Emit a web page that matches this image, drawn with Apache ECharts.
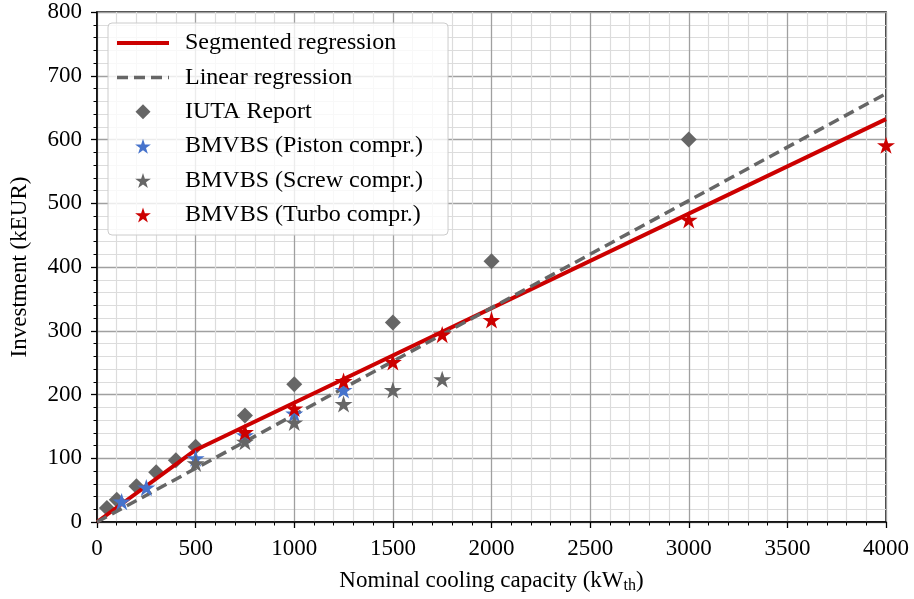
<!DOCTYPE html>
<html>
<head>
<meta charset="utf-8">
<script src="https://cdn.jsdelivr.net/npm/echarts@6/dist/echarts.min.js"></script>
<style>
html,body{margin:0;padding:0;background:#fff;}
#chart{width:914px;height:599px;}
</style>
</head>
<body>
<div id="chart"></div>
<script>
// ---- data ----
var iutaX = [50, 100, 200, 300, 400, 500, 750, 1000, 1500, 2000, 3000];
var iutaY = [22, 35, 56, 78, 97, 118, 167, 216, 313, 409, 600];
var pistonX = [125, 250, 500, 750, 1000, 1250];
var pistonY = [32, 54, 100, 136, 170, 207];
var screwX = [500, 750, 1000, 1250, 1500, 1750];
var screwY = [92, 126, 156, 185, 207, 224];
var turboX = [750, 1000, 1250, 1500, 1750, 2000, 3000, 4000];
var turboY = [141, 178, 221, 251, 294, 317, 474, 591];
var segX = [0, 500, 4000];
var segY = [0, 113, 632];
var linX = [0, 4000];
var linY = [0, 672];

var seriesNames = ['Segmented regression', 'Linear regression', 'IUTA Report',
  'BMVBS (Piston compr.)', 'BMVBS (Screw compr.)', 'BMVBS (Turbo compr.)'];

function pairs(xs, ys) { return xs.map(function (x, i) { return [x, ys[i]]; }); }

var STAR = 'path://M100 0 L122.45 69.1 L195.1 69.1 L136.33 111.8 L158.8 180.9 L100 138.2 L41.2 180.9 L63.67 111.8 L4.9 69.1 L77.55 69.1 Z';
var DIAMOND = 'path://M50 0 L100 50 L50 100 L0 50 Z';
var RED = '#cc0000', GRAY = '#666666', BLUE = '#4673cc';
var FONT = '"Liberation Serif", "DejaVu Serif", serif';
var FS = 23;

var chart = echarts.init(document.getElementById('chart'), null, {renderer: 'canvas'});
chart.setOption({
  animation: false,
  backgroundColor: '#fff',
  grid: {left: 96, right: 28, top: 12, bottom: 75, show: true, borderColor: '#000', borderWidth: 1.5, backgroundColor: 'transparent'},
  xAxis: {
    type: 'value', min: 0, max: 4000, interval: 500,
    name: 'Nominal cooling capacity (kW{sub|th})',
    nameLocation: 'middle', nameGap: 46,
    nameTextStyle: {fontFamily: FONT, fontSize: FS, color: '#000',
      rich: {sub: {fontFamily: FONT, fontSize: 16, color: '#000', verticalAlign: 'bottom', padding: [10, 0, 0, 0]}}},
    axisLine: {show: true, lineStyle: {color: '#000', width: 1.5}},
    axisTick: {show: true, length: 6, inside: false, lineStyle: {color: '#000', width: 1.3}},
    minorTick: {show: true, splitNumber: 5, length: 3.5, lineStyle: {color: '#000', width: 1}},
    axisLabel: {fontFamily: FONT, fontSize: FS, color: '#000', margin: 15, formatter: function (v) { return String(v); }},
    splitLine: {show: true, lineStyle: {color: '#a0a0a0', width: 1.3}},
    minorSplitLine: {show: true, lineStyle: {color: '#dcdcdc', width: 1.2}}
  },
  yAxis: {
    type: 'value', min: 0, max: 800, interval: 100,
    name: 'Investment (kEUR)',
    nameLocation: 'middle', nameGap: 66, nameRotate: 90,
    nameTextStyle: {fontFamily: FONT, fontSize: FS, color: '#000'},
    axisLine: {show: true, lineStyle: {color: '#000', width: 1.5}},
    axisTick: {show: true, length: 6, inside: false, lineStyle: {color: '#000', width: 1.3}},
    minorTick: {show: true, splitNumber: 5, length: 3.5, lineStyle: {color: '#000', width: 1}},
    axisLabel: {fontFamily: FONT, fontSize: FS, color: '#000', margin: 15, formatter: function (v) { return String(v); }},
    splitLine: {show: true, lineStyle: {color: '#a0a0a0', width: 1.3}},
    minorSplitLine: {show: true, lineStyle: {color: '#dcdcdc', width: 1.2}}
  },
  legend: {
    orient: 'vertical', left: 108, top: 23,
    padding: [8, 25, 8, 7],
    itemWidth: 52, itemHeight: 15, itemGap: 10.4,
    symbolKeepAspect: true,
    backgroundColor: 'rgba(255,255,255,0.8)',
    borderColor: '#cccccc', borderWidth: 1, borderRadius: 4,
    textStyle: {fontFamily: FONT, fontSize: 24, color: '#000', lineHeight: 22, padding: [0, 0, 0, 11]},
    data: [
      {name: seriesNames[0], itemStyle: {opacity: 0}, lineStyle: {color: RED, width: 4, type: 'solid'}},
      {name: seriesNames[1], itemStyle: {opacity: 0}, lineStyle: {color: GRAY, width: 3.5, type: [11, 6]}},
      {name: seriesNames[2], icon: DIAMOND},
      {name: seriesNames[3], icon: STAR},
      {name: seriesNames[4], icon: STAR},
      {name: seriesNames[5], icon: STAR}
    ]
  },
  series: [
    {name: seriesNames[2], type: 'scatter', data: pairs(iutaX, iutaY), symbol: DIAMOND, symbolSize: 16,
      itemStyle: {color: GRAY, opacity: 1}, z: 2},
    {name: seriesNames[0], type: 'line', data: pairs(segX, segY), symbol: 'none', showSymbol: false,
      lineStyle: {color: RED, width: 4}, itemStyle: {color: RED}, z: 3},
    {name: seriesNames[1], type: 'line', data: pairs(linX, linY), symbol: 'none', showSymbol: false,
      lineStyle: {color: GRAY, width: 3.5, type: [11, 6]}, itemStyle: {color: GRAY}, z: 3},
    {name: seriesNames[3], type: 'scatter', data: pairs(pistonX, pistonY), symbol: STAR, symbolSize: 18, symbolKeepAspect: true,
      itemStyle: {color: BLUE, opacity: 1}, z: 4},
    {name: seriesNames[4], type: 'scatter', data: pairs(screwX, screwY), symbol: STAR, symbolSize: 18, symbolKeepAspect: true,
      itemStyle: {color: GRAY, opacity: 1}, z: 4},
    {name: seriesNames[5], type: 'scatter', data: pairs(turboX, turboY), symbol: STAR, symbolSize: 18, symbolKeepAspect: true,
      itemStyle: {color: RED, opacity: 1}, z: 4}
  ]
});
</script>
</body>
</html>
